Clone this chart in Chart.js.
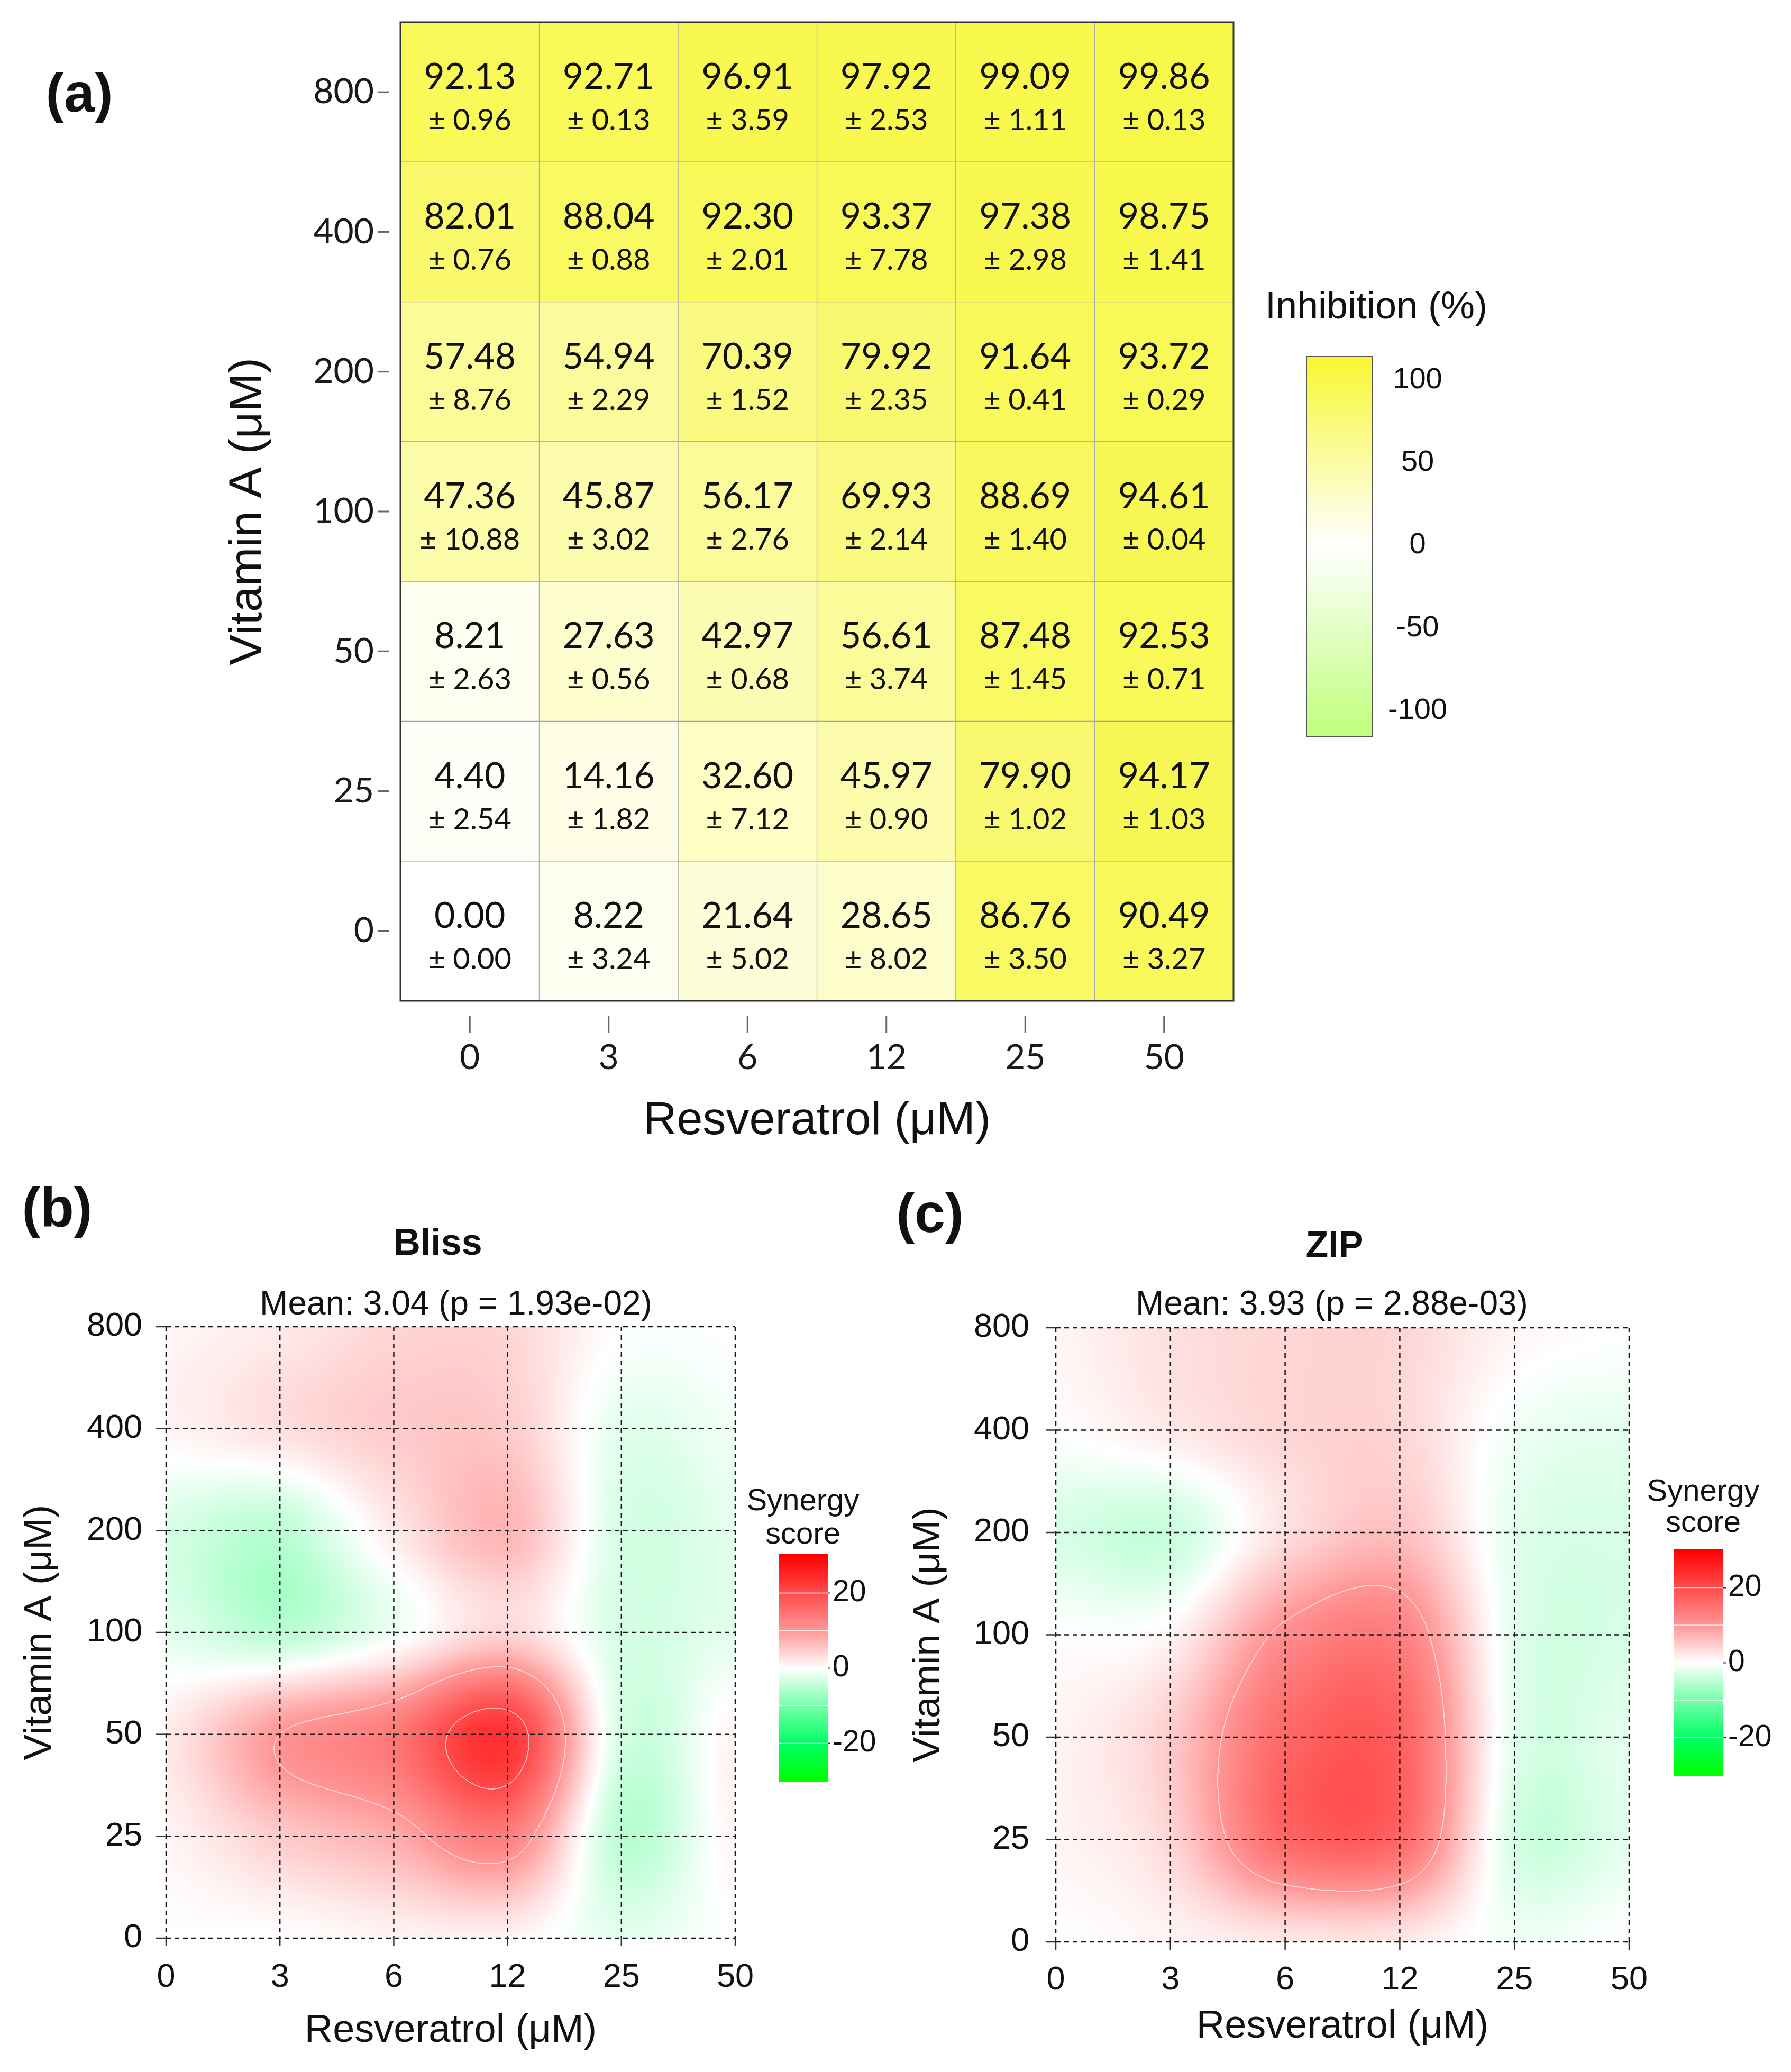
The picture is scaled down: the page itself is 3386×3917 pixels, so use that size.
<!DOCTYPE html>
<html><head><meta charset="utf-8">
<script src="https://cdn.jsdelivr.net/npm/chart.js@4.4.1/dist/chart.umd.min.js"></script>
<style>
html,body{margin:0;padding:0;background:#fff;}
body{width:3386px;height:3917px;position:relative;overflow:hidden;}
canvas{position:absolute;}
.t{position:absolute;white-space:nowrap;transform:translate(-50%,-50%);line-height:1;color:#111;font-family:'Liberation Sans',Arial,sans-serif;}
.b{font-weight:bold;}
</style></head><body>
<canvas id="cA" width="3386" height="2200" style="left:0;top:0;width:3386px;height:2200px"></canvas>
<canvas id="cAbar" width="330" height="860" style="left:2470px;top:600px;width:330px;height:860px"></canvas>
<canvas id="cB" width="1690" height="1717" style="left:0;top:2200px;width:1690px;height:1717px"></canvas>
<canvas id="cBbar" width="200" height="520" style="left:1472px;top:2900px;width:200px;height:520px"></canvas>
<canvas id="cC" width="1696" height="1717" style="left:1690px;top:2200px;width:1696px;height:1717px"></canvas>
<canvas id="cCbar" width="200" height="520" style="left:3165px;top:2890px;width:200px;height:520px"></canvas>

<div class="t b" style="left:150px;top:175px;font-size:104px">(a)</div>
<div class="t" style="left:2602px;top:577px;font-size:72px">Inhibition (%)</div>

<div class="t b" style="left:108px;top:2282px;font-size:104px">(b)</div>
<div class="t b" style="left:828px;top:2348px;font-size:70px">Bliss</div>
<div class="t" style="left:862px;top:2463px;font-size:64px">Mean: 3.04 (p = 1.93e-02)</div>
<div class="t" style="left:1518px;top:2835px;font-size:58px">Synergy</div>
<div class="t" style="left:1518px;top:2898px;font-size:58px">score</div>

<div class="t b" style="left:1758px;top:2293px;font-size:104px">(c)</div>
<div class="t b" style="left:2523px;top:2353px;font-size:70px">ZIP</div>
<div class="t" style="left:2518px;top:2463px;font-size:64px">Mean: 3.93 (p = 2.88e-03)</div>
<div class="t" style="left:3220px;top:2817px;font-size:58px">Synergy</div>
<div class="t" style="left:3220px;top:2876px;font-size:58px">score</div>

<script>
// ---------------- DATA ----------------
const resveratrolLabels = ['0','3','6','12','25','50'];
const vitaminALabels = ['0','25','50','100','200','400','800'];

// Inhibition (%) mean, rows = vitamin A level (0 ... 800), columns = resveratrol
const inhibitionMean = [
  [0.00, 8.22, 21.64, 28.65, 86.76, 90.49],
  [4.40, 14.16, 32.60, 45.97, 79.90, 94.17],
  [8.21, 27.63, 42.97, 56.61, 87.48, 92.53],
  [47.36, 45.87, 56.17, 69.93, 88.69, 94.61],
  [57.48, 54.94, 70.39, 79.92, 91.64, 93.72],
  [82.01, 88.04, 92.30, 93.37, 97.38, 98.75],
  [92.13, 92.71, 96.91, 97.92, 99.09, 99.86]
];
const inhibitionSD = [
  [0.00, 3.24, 5.02, 8.02, 3.50, 3.27],
  [2.54, 1.82, 7.12, 0.90, 1.02, 1.03],
  [2.63, 0.56, 0.68, 3.74, 1.45, 0.71],
  [10.88, 3.02, 2.76, 2.14, 1.40, 0.04],
  [8.76, 2.29, 1.52, 2.35, 0.41, 0.29],
  [0.76, 0.88, 2.01, 7.78, 2.98, 1.41],
  [0.96, 0.13, 3.59, 2.53, 1.11, 0.13]
];
// Synergy scores read at the dose grid nodes (rows = vitamin A 0 ... 800)
const blissScore = [
  [0, 0, 1, 1, -2, 0],
  [1, 5, 8, 13, -5, 1],
  [2, 10, 14, 23, -3, 1],
  [-2, -5, -1, 4, -3, -2],
  [-3, -5, 2, 7, -3, -2],
  [1, 3, 5, 5, -2, -1],
  [1, 2, 4, 4, 0, 0]
];
const zipScore = [
  [0, 1, 2, 2, -1, 0],
  [1, 4, 16, 16, -3, -2],
  [1, 5, 16, 17, -2, -2],
  [0, 1, 11, 13, -2, -3],
  [-3, -4, 3, 6, -2, -3],
  [0, 2, 4, 4, -1, -2],
  [1, 3, 4, 4, 1, 0]
];
const inhibitionLegendTicks = [-100, -50, 0, 50, 100];
const synergyLegendTicks = [-20, 0, 20];

// ---------------- STYLE HELPERS ----------------
Chart.defaults.font.family = "'Liberation Sans', Arial, sans-serif";
Chart.defaults.color = '#111';

function inhColor(v){
  if (v >= 0){ const t = v/100; return [255-7*t, 255-7*t, 255-180*t]; }
  const t = -v/100; return [255-55*t, 255, 255-115*t];
}
const rgb = c => `rgb(${Math.round(c[0])},${Math.round(c[1])},${Math.round(c[2])})`;

const synStops = [[-30,[0,255,0]],[-20,[0,255,100]],[-10,[120,255,170]],[0,[255,255,255]],[10,[255,150,150]],[20,[255,75,75]],[30,[255,0,0]]];
function synColor(v){
  if (v <= synStops[0][0]) return synStops[0][1];
  for (let k=1;k<synStops.length;k++){
    if (v <= synStops[k][0]){
      const [v0,c0]=synStops[k-1], [v1,c1]=synStops[k]; const t=(v-v0)/(v1-v0);
      return [c0[0]+(c1[0]-c0[0])*t, c0[1]+(c1[1]-c0[1])*t, c0[2]+(c1[2]-c0[2])*t];
    }
  }
  return synStops[synStops.length-1][1];
}
function line(ctx,x1,y1,x2,y2){ctx.beginPath();ctx.moveTo(x1,y1);ctx.lineTo(x2,y2);ctx.stroke();}

// ---------------- PANEL (a) ----------------
const heatPlugin = {
  id:'heatText',
  afterDatasetsDraw(chart){
    const ctx = chart.ctx, a = chart.chartArea, xs = chart.scales.x, ys = chart.scales.y;
    ctx.save();
    ctx.textAlign='center'; ctx.textBaseline='middle'; ctx.fillStyle='#111';
    chart.data.datasets.forEach((ds, r) => {
      chart.getDatasetMeta(r).data.forEach((el, c) => {
        const p = el.getProps(['x','y','base'], true);
        const cy = (p.y + p.base)/2;
        ctx.font = "68px Lato";
        ctx.fillText(inhibitionMean[r][c].toFixed(2), p.x, cy-28);
        ctx.font = "56px Lato";
        ctx.fillText('± ' + inhibitionSD[r][c].toFixed(2), p.x, cy+54);
      });
    });
    ctx.strokeStyle='#333'; ctx.lineWidth=3;
    ctx.strokeRect(a.left, a.top, a.right-a.left, a.bottom-a.top);
    ctx.strokeStyle='#666'; ctx.lineWidth=3;
    ys.ticks.forEach(t => { const py = ys.getPixelForValue(t.value); line(ctx, a.left-42, py, a.left-22, py); });
    xs.ticks.forEach((t,i) => { const px = xs.getPixelForValue(i); line(ctx, px, a.bottom+28, px, a.bottom+60); });
    ctx.restore();
  }
};

new Chart(document.getElementById('cA'), {
  type:'bar',
  data:{
    labels: resveratrolLabels,
    datasets: vitaminALabels.map((lab, r) => ({
      label: lab,
      data: inhibitionMean[r].map(() => [r-0.5, r+0.5]),
      backgroundColor: inhibitionMean[r].map(v => rgb(inhColor(v))),
      borderColor: 'rgb(160,162,175)', borderWidth: 1, borderSkipped: false,
      grouped: false, barPercentage: 1, categoryPercentage: 1
    }))
  },
  options:{
    responsive:false, devicePixelRatio:1, animation:false, events:[],
    layout:{padding:{left:0, right:1054, top:42, bottom:27.2}},
    plugins:{legend:{display:false}, tooltip:{enabled:false}},
    scales:{
      x:{
        grid:{display:false, drawTicks:false}, border:{display:false},
        ticks:{padding:68, font:{family:'Lato', size:66}, color:'#1a1a1a'},
        title:{display:true, text:'Resveratrol (μM)', font:{size:88}, color:'#111', padding:0},
        afterFit: s => { s.height = 280.8; }
      },
      y:{
        min:-0.5, max:6.5,
        grid:{display:true, drawOnChartArea:false, drawTicks:true, tickLength:48, tickColor:'rgba(0,0,0,0)'},
        border:{display:false},
        afterBuildTicks: s => { s.ticks = vitaminALabels.map((_, i) => ({value:i})); },
        ticks:{padding:2, font:{family:'Lato', size:66}, color:'#1a1a1a', autoSkip:false, callback: v => vitaminALabels[v]},
        title:{display:true, text:'Vitamin A (μM)', font:{size:88}, color:'#111', padding:{top:417, bottom:0}},
        afterFit: s => { s.width = 757; }
      }
    }
  },
  plugins:[heatPlugin]
});

// ---------------- COLORBARS ----------------
function colorbar(id, o){
  return new Chart(document.getElementById(id), {
    type:'scatter',
    data:{datasets:[]},
    options:{
      responsive:false, devicePixelRatio:1, animation:false, events:[],
      layout:{padding:{left:0, right:0, top:o.pt, bottom:o.pb}},
      plugins:{legend:{display:false}, tooltip:{enabled:false}},
      scales:{
        x:{display:false, min:0, max:1},
        y:{
          position:'right', min:o.min, max:o.max,
          afterBuildTicks: s => { s.ticks = o.ticks.map(v => ({value:v})); },
          grid:{display:true, drawOnChartArea:false, drawTicks:o.drawTicks, tickLength:o.tl, tickColor:'#333', tickWidth:2},
          border:{display:false},
          ticks:{padding:o.pad, crossAlign:o.align, font:{size:o.fs}, color:'#111', autoSkip:false, callback: v => String(v)},
          afterFit: s => { s.width = o.w; }
        }
      }
    },
    plugins:[{
      id:'cbarFill',
      afterDraw(chart){
        const ctx = chart.ctx, a = chart.chartArea, ys = chart.scales.y;
        ctx.save();
        for (let py = Math.round(a.top); py < Math.round(a.bottom); py++){
          ctx.fillStyle = rgb(o.color(ys.getValueForPixel(py+0.5)));
          ctx.fillRect(a.left, py, a.right-a.left, 1);
        }
        if (o.lines){
          ctx.strokeStyle='rgba(255,255,255,0.75)'; ctx.lineWidth=2;
          o.lines.forEach(v => { const py = ys.getPixelForValue(v); line(ctx, a.left, py, a.right, py); });
        }
        if (o.frame){
          ctx.strokeStyle='#555'; ctx.lineWidth=2;
          ctx.strokeRect(a.left, a.top, a.right-a.left, a.bottom-a.top);
        }
        ctx.restore();
      }
    }]
  });
}
colorbar('cAbar', {pt:74, pb:67, w:205, min:-115.7, max:114.1, ticks:inhibitionLegendTicks, drawTicks:false, tl:0, pad:29, align:'center', fs:56, color:inhColor, frame:true});
colorbar('cBbar', {pt:37, pb:51, w:107, min:-30.3, max:30.3, ticks:synergyLegendTicks, drawTicks:true, tl:5, pad:4, align:'near', fs:57, color:synColor, lines:[-20,-10,10,20]});
colorbar('cCbar', {pt:38, pb:52, w:107, min:-30.3, max:30.3, ticks:synergyLegendTicks, drawTicks:true, tl:5, pad:4, align:'near', fs:57, color:synColor, lines:[-20,-10,10,20]});

// ---------------- PANELS (b), (c) ----------------
function cr(p0,p1,p2,p3,t){const t2=t*t,t3=t2*t;return 0.5*(2*p1+(-p0+p2)*t+(2*p0-5*p1+4*p2-p3)*t2+(-p0+3*p1-3*p2+p3)*t3);}

const surfacePlugin = {
  id:'surface',
  beforeDatasetsDraw(chart){
    const ctx = chart.ctx, a = chart.chartArea, xs = chart.scales.x, ys = chart.scales.y;
    const nx = resveratrolLabels.length, ny = vitaminALabels.length;
    const G = Array.from({length:ny}, () => new Array(nx).fill(0));
    chart.data.datasets[0].data.forEach(p => { G[p.y][p.x] = p.v; });
    const g = (j,i) => G[Math.max(0,Math.min(ny-1,j))][Math.max(0,Math.min(nx-1,i))];
    const L = Math.round(a.left), T = Math.round(a.top), W = Math.round(a.right)-L, H = Math.round(a.bottom)-T;
    const ui = new Int32Array(W), ut = new Float32Array(W);
    for (let px=0; px<W; px++){
      let u = xs.getValueForPixel(L+px+0.5); u = Math.max(0, Math.min(nx-1, u));
      const i0 = Math.min(nx-2, Math.floor(u)); ui[px]=i0; ut[px]=u-i0;
    }
    const F = new Float32Array(W*H);
    for (let py=0; py<H; py++){
      let w = ys.getValueForPixel(T+py+0.5); w = Math.max(0, Math.min(ny-1, w));
      const j0 = Math.min(ny-2, Math.floor(w)), tw = w-j0;
      for (let px=0; px<W; px++){
        const i0 = ui[px], t = ut[px];
        const r0 = cr(g(j0-1,i0-1),g(j0-1,i0),g(j0-1,i0+1),g(j0-1,i0+2),t);
        const r1 = cr(g(j0,i0-1),g(j0,i0),g(j0,i0+1),g(j0,i0+2),t);
        const r2 = cr(g(j0+1,i0-1),g(j0+1,i0),g(j0+1,i0+1),g(j0+1,i0+2),t);
        const r3 = cr(g(j0+2,i0-1),g(j0+2,i0),g(j0+2,i0+1),g(j0+2,i0+2),t);
        F[py*W+px] = cr(r0,r1,r2,r3,tw);
      }
    }
    const M = new Uint8Array(W*H), lv = [-20,-10,10,20];
    for (let py=0; py<H; py++) for (let px=0; px<W; px++){
      const p = py*W+px, v = F[p];
      for (const l of lv){
        if (px+1<W && (v-l)*(F[p+1]-l) < 0){ M[p]=1; M[p+1]=1; }
        if (py+1<H && (v-l)*(F[p+W]-l) < 0){ M[p]=1; M[p+W]=1; }
      }
    }
    const img = ctx.createImageData(W,H), d = img.data;
    for (let p=0; p<W*H; p++){
      const c = synColor(F[p]); let r=c[0], gg=c[1], b=c[2];
      if (M[p]){ r+=(255-r)*0.6; gg+=(255-gg)*0.6; b+=(255-b)*0.6; }
      d[4*p]=r; d[4*p+1]=gg; d[4*p+2]=b; d[4*p+3]=255;
    }
    ctx.putImageData(img, L, T);
  },
  afterDatasetsDraw(chart){
    const ctx = chart.ctx, a = chart.chartArea, xs = chart.scales.x, ys = chart.scales.y;
    ctx.save();
    ctx.strokeStyle='#1a1a1a'; ctx.lineWidth=2.5; ctx.setLineDash([9,7]);
    xs.ticks.forEach(t => { const px = xs.getPixelForValue(t.value); line(ctx, px, a.top, px, a.bottom); });
    ys.ticks.forEach(t => { const py = ys.getPixelForValue(t.value); line(ctx, a.left, py, a.right, py); });
    ctx.setLineDash([]); ctx.strokeStyle='#333';
    xs.ticks.forEach(t => { const px = xs.getPixelForValue(t.value); line(ctx, px, a.bottom, px, a.bottom+15); });
    ys.ticks.forEach(t => { const py = ys.getPixelForValue(t.value); line(ctx, a.left-19, py, a.left, py); });
    ctx.restore();
  }
};

function synergyChart(id, rows, o){
  return new Chart(document.getElementById(id), {
    type:'scatter',
    data:{datasets:[{
      label:'score',
      data: rows.flatMap((row, j) => row.map((v, i) => ({x:i, y:j, v:v}))),
      pointRadius:0, pointHoverRadius:0
    }]},
    options:{
      responsive:false, devicePixelRatio:1, animation:false, events:[],
      layout:{padding:{left:0, right:o.pr, top:o.pt, bottom:o.pb}},
      plugins:{legend:{display:false}, tooltip:{enabled:false}},
      scales:{
        x:{
          type:'linear', min:0, max:resveratrolLabels.length-1,
          grid:{display:false, drawTicks:false}, border:{display:false},
          afterBuildTicks: s => { s.ticks = resveratrolLabels.map((_, i) => ({value:i})); },
          ticks:{padding:o.xpad, font:{size:63}, color:'#111', autoSkip:false, maxRotation:0, callback: v => resveratrolLabels[v]},
          title:{display:true, text:'Resveratrol (μM)', font:{size:74}, color:'#111', padding:0},
          afterFit: s => { s.height = o.xh; }
        },
        y:{
          type:'linear', min:0, max:vitaminALabels.length-1,
          grid:{display:false, drawTicks:false}, border:{display:false},
          afterBuildTicks: s => { s.ticks = vitaminALabels.map((_, i) => ({value:i})); },
          ticks:{padding:o.ypad, font:{size:63}, color:'#111', autoSkip:false, callback: v => vitaminALabels[v]},
          title:{display:true, text:'Vitamin A (μM)', font:{size:73}, color:'#111', padding:{top:o.ytp, bottom:0}},
          afterFit: s => { s.width = o.yw; }
        }
      }
    },
    plugins:[surfacePlugin]
  });
}
synergyChart('cB', blissScore, {pr:300, pt:308, pb:32.6, xh:220.4, xpad:37, ypad:45, yw:314, ytp:32});
synergyChart('cC', zipScore,   {pr:306, pt:310, pb:40.6, xh:205.4, xpad:35, ypad:50, yw:306, ytp:22});
</script>
</body></html>
